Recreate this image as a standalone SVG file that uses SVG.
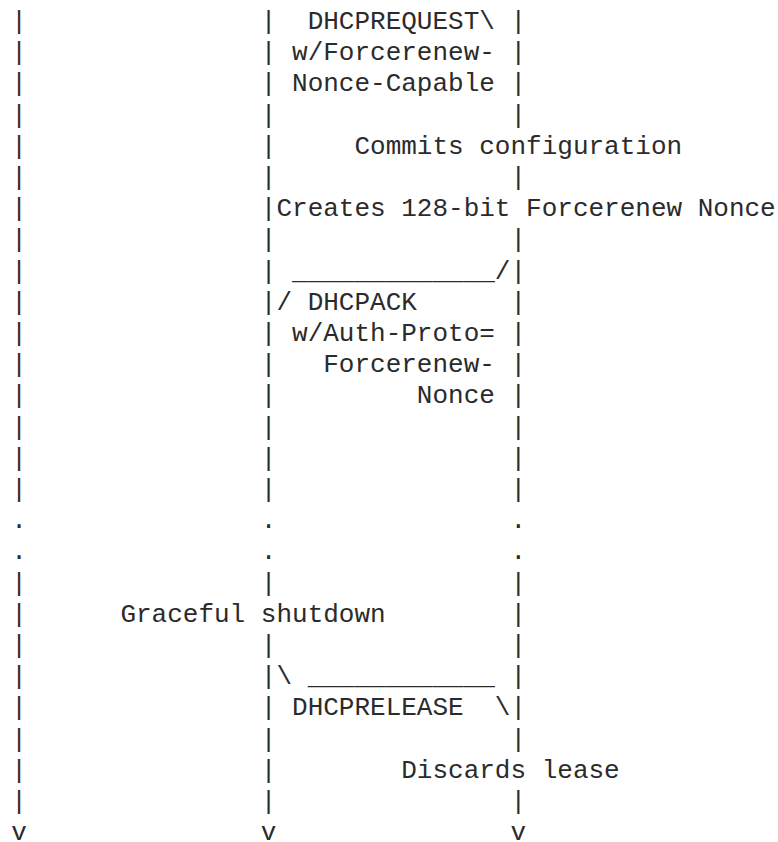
<svg xmlns="http://www.w3.org/2000/svg" width="778" height="842" viewBox="0 0 778 842">
<style>
text{font-family:"Liberation Mono","DejaVu Sans Mono",monospace;font-size:26px;fill:#2b2b2b;white-space:pre}
</style>
<rect width="778" height="842" fill="#fff"/>
<g id="diagram" xml:space="preserve">
<text x="11.2" y="29">|               |  DHCPREQUEST\ |</text>
<text x="11.2" y="60.2">|               | w/Forcerenew- |</text>
<text x="11.2" y="91.4">|               | Nonce-Capable |</text>
<text x="11.2" y="122.6">|               |               |</text>
<text x="11.2" y="153.8">|               |     Commits configuration</text>
<text x="11.2" y="185">|               |               |</text>
<text x="11.2" y="216.2">|               |Creates 128-bit Forcerenew Nonce</text>
<text x="11.2" y="247.4">|               |               |</text>
<text x="11.2" y="278.6">|               | _____________/|</text>
<text x="11.2" y="309.8">|               |/ DHCPACK      |</text>
<text x="11.2" y="341">|               | w/Auth-Proto= |</text>
<text x="11.2" y="372.2">|               |   Forcerenew- |</text>
<text x="11.2" y="403.4">|               |         Nonce |</text>
<text x="11.2" y="434.6">|               |               |</text>
<text x="11.2" y="465.8">|               |               |</text>
<text x="11.2" y="497">|               |               |</text>
<text x="11.2" y="528.2">.               .               .</text>
<text x="11.2" y="559.4">.               .               .</text>
<text x="11.2" y="590.6">|               |               |</text>
<text x="11.2" y="621.8">|      Graceful shutdown        |</text>
<text x="11.2" y="653">|               |               |</text>
<text x="11.2" y="684.2">|               |\ ____________ |</text>
<text x="11.2" y="715.4">|               | DHCPRELEASE  \|</text>
<text x="11.2" y="746.6">|               |               |</text>
<text x="11.2" y="777.8">|               |        Discards lease</text>
<text x="11.2" y="809">|               |               |</text>
<text x="11.2" y="839.5">v               v               v</text>
</g>
</svg>
